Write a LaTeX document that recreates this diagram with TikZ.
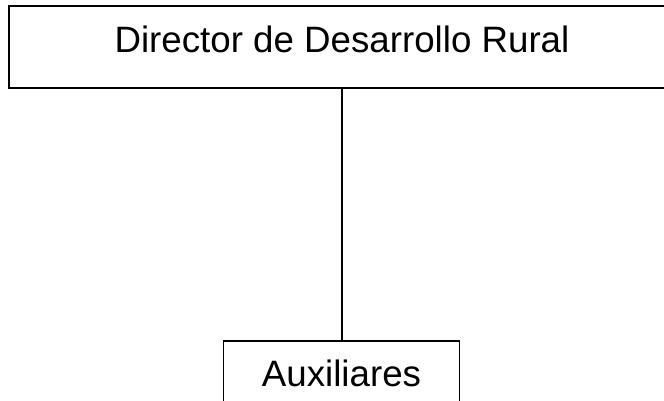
\documentclass[tikz,border=0pt]{standalone}
\usepackage{fontspec}
\setmainfont{Liberation Sans}
\begin{document}
\begin{tikzpicture}
[x=1pt,y=-1pt,
  boxdecorate/.style={shape=rectangle,draw,inner sep=0pt,
    font=\fontsize{36.7}{44}\selectfont},%
  linedecorate/.style={-,line width=1.4pt}]
\useasboundingbox (0,0) rectangle (664,401);
\clip (0,0) rectangle (664,401);
%% nodes or boxes
\node (director) at (342,47) [boxdecorate,line width=2.6pt,text depth=15pt,
  minimum width=666pt,minimum height=82pt] {Director de Desarrollo Rural};
\node (auxiliares) at (341.5,373) [boxdecorate,line width=1.4pt,
  minimum width=236pt,minimum height=64pt] {Auxiliares};
%% edges or lines
\path (director.south) edge[linedecorate] node {} (director.south |- auxiliares.north);
\end{tikzpicture}
\end{document}
